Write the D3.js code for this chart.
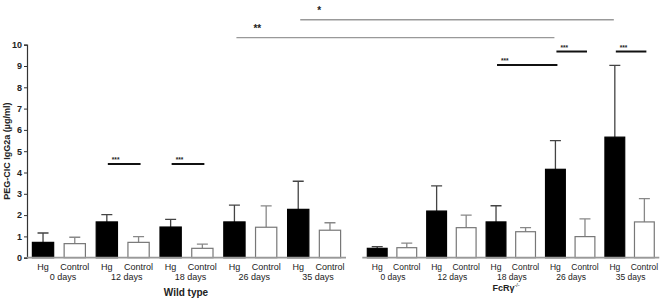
<!DOCTYPE html>
<html>
<head>
<meta charset="utf-8">
<script src="https://cdn.jsdelivr.net/npm/d3@7"></script>
<style>
  body { margin: 0; background: #fff; }
  text { font-family: "Liberation Sans", Arial, sans-serif; fill: #222; }
</style>
</head>
<body>
<div id="chart"></div>
<script>
// categories
const days = ["0 days", "12 days", "18 days", "26 days", "35 days"]
const series = ["Hg", "Control"]
const yTicks = [0, 1, 2, 3, 4, 5, 6, 7, 8, 9, 10]

// wild type values (mean and error)
const wtHg = [0.72, 1.68, 1.44, 1.68, 2.27]
const wtHgErr = [0.44, 0.34, 0.36, 0.79, 1.32]
const wtControl = [0.66, 0.72, 0.44, 1.43, 1.29]
const wtControlErr = [0.30, 0.27, 0.20, 1.00, 0.35]

// FcRg-/- values
const koHg = [0.44, 2.19, 1.68, 4.15, 5.66]
const koHgErr = [0.08, 1.18, 0.76, 1.35, 3.37]
const koControl = [0.47, 1.41, 1.22, 0.99, 1.68]
const koControlErr = [0.21, 0.59, 0.19, 0.83, 1.09]

// significance marks: [panel, day, series] -> [panel, day, series]
const sigLabels = ["***", "***", "***", "***", "***", "**", "*"]
const sigFrom = [["wt", 1, "Hg"], ["wt", 2, "Hg"], ["ko", 2, "Hg"], ["ko", 3, "Hg"], ["ko", 4, "Hg"], ["wt", 3, "Hg"], ["wt", 4, "Hg"]]
const sigTo = [["wt", 1, "Control"], ["wt", 2, "Control"], ["ko", 3, "Hg"], ["ko", 3, "Control"], ["ko", 4, "Control"], ["ko", 3, "Hg"], ["ko", 4, "Hg"]]
const sigLevel = [4.4, 4.4, 9.05, 9.68, 9.68, 10.33, 11.17]

const width = 662, height = 304

const svg = d3.select("#chart")
  .append("svg")
    .attr("width", width)
    .attr("height", height)

// y scale shared by both panels
const y = d3.scaleLinear()
  .domain([0, 10])
  .range([257.7, 44.7])

// x scales for each panel (right panel text is a bit smaller)
const panels = {
  wt: {
    x: d3.scaleBand().domain(days).range([27, 346]).padding(0),
    hg: wtHg, hgErr: wtHgErr, ctrl: wtControl, ctrlErr: wtControlErr,
    font: 9
  },
  ko: {
    x: d3.scaleBand().domain(days).range([362.3, 659.3]).padding(0),
    hg: koHg, hgErr: koHgErr, ctrl: koControl, ctrlErr: koControlErr,
    font: 8.5
  }
}
for (const k in panels) {
  panels[k].inner = d3.scaleBand()
    .domain(series)
    .range([0, panels[k].x.bandwidth()])
    .paddingInner(0.33)
    .paddingOuter(0.17)
}

const barCenter = function(p, i, s) {
  const P = panels[p]
  return P.x(days[i]) + P.inner(s) + P.inner.bandwidth() / 2
}

// y axis
const yAxis = svg.append("g")
  .attr("transform", "translate(27,0)")
  .call(d3.axisLeft(y).tickValues(yTicks).tickSize(3).tickPadding(2))
yAxis.select(".domain").attr("stroke", "#333").attr("stroke-width", 1.2)
yAxis.selectAll(".tick line").attr("stroke", "#333")
yAxis.selectAll(".tick text")
  .style("font-size", "9px")
  .style("font-weight", "bold")
  .attr("fill", "#222")

svg.append("text")
  .attr("transform", `translate(9.5,${(y(0) + y(10)) / 2}) rotate(-90)`)
  .attr("text-anchor", "middle")
  .style("font-size", "9px")
  .style("font-weight", "bold")
  .text("PEG-CIC IgG2a (µg/ml)")

for (const k in panels) {
  const P = panels[k]
  const g = svg.append("g")

  const rows = []
  days.forEach(function(d, i) {
    rows.push({day: d, s: "Hg", v: P.hg[i], e: P.hgErr[i], i: i})
    rows.push({day: d, s: "Control", v: P.ctrl[i], e: P.ctrlErr[i], i: i})
  })

  // error bars
  g.selectAll(".err")
    .data(rows)
    .enter()
    .append("path")
      .attr("d", function(d) {
        const cx = barCenter(k, d.i, d.s)
        return `M${cx},${y(d.v)}V${y(d.v + d.e)}M${cx - 5.5},${y(d.v + d.e)}H${cx + 5.5}`
      })
      .attr("fill", "none")
      .attr("stroke", function(d) { return d.s == "Hg" ? "#444" : "#888" })
      .attr("stroke-width", 1.3)

  // bars
  g.selectAll(".bar")
    .data(rows)
    .enter()
    .append("rect")
      .attr("x", function(d) { return P.x(d.day) + P.inner(d.s) })
      .attr("y", function(d) { return y(d.v) })
      .attr("width", P.inner.bandwidth())
      .attr("height", function(d) { return y(0) - y(d.v) })
      .attr("fill", function(d) { return d.s == "Hg" ? "#000" : "#fff" })
      .attr("stroke", function(d) { return d.s == "Hg" ? "#000" : "#777" })
      .attr("stroke-width", 1.2)

  // baseline
  g.append("line")
    .attr("x1", P.x.range()[0]).attr("x2", P.x.range()[1])
    .attr("y1", y(0)).attr("y2", y(0))
    .attr("stroke", "#999")
    .attr("stroke-width", 1.8)

  // series labels
  g.selectAll(".slab")
    .data(rows)
    .enter()
    .append("text")
      .attr("x", function(d) { return barCenter(k, d.i, d.s) })
      .attr("y", 269.5)
      .attr("text-anchor", "middle")
      .style("font-size", P.font + "px")
      .text(function(d) { return d.s })

  // day labels
  g.selectAll(".dlab")
    .data(days)
    .enter()
    .append("text")
      .attr("x", function(d) { return P.x(d) + P.x.bandwidth() / 2 + (k == "wt" ? 4 : 1) })
      .attr("y", 280)
      .attr("text-anchor", "middle")
      .style("font-size", P.font + "px")
      .text(function(d) { return d })
}

// panel titles
svg.append("text")
  .attr("x", 186)
  .attr("y", 295.5)
  .attr("text-anchor", "middle")
  .style("font-size", "10px")
  .style("font-weight", "bold")
  .text("Wild type")

const koTitle = svg.append("text")
  .attr("x", 506)
  .attr("y", 290.5)
  .attr("text-anchor", "middle")
  .style("font-size", "9px")
  .style("font-weight", "bold")
koTitle.append("tspan").text("FcRγ")
koTitle.append("tspan")
  .attr("dy", -3.5)
  .style("font-size", "5.5px")
  .style("font-weight", "normal")
  .text("-/-")

// significance lines and stars
sigLabels.forEach(function(lab, j) {
  const x1 = barCenter(sigFrom[j][0], sigFrom[j][1], sigFrom[j][2])
  const x2 = barCenter(sigTo[j][0], sigTo[j][1], sigTo[j][2])
  const yy = y(sigLevel[j])
  const long = sigFrom[j][0] != sigTo[j][0]
  svg.append("line")
    .attr("x1", x1 + (long ? 2 : 1)).attr("x2", x2 + (long ? -1 : 2))
    .attr("y1", yy).attr("y2", yy)
    .attr("stroke", long ? "#999" : "#111")
    .attr("stroke-width", long ? 1.4 : 2)
  svg.append("text")
    .attr("x", x1 + (long ? 19 : 5))
    .attr("y", yy - (long ? 6 : 2))
    .style("font-size", long ? "10px" : "6.5px")
    .style("font-weight", "bold")
    .text(lab)
})
</script>
</body>
</html>
